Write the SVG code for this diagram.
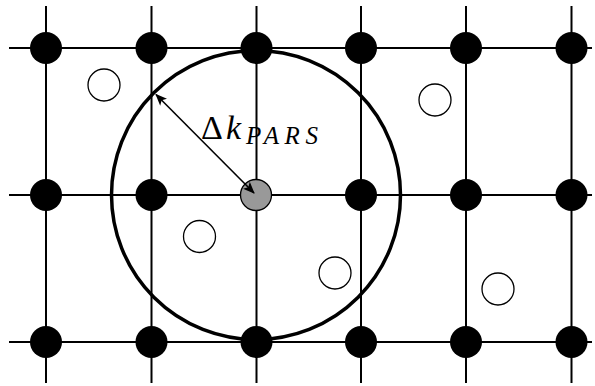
<svg xmlns="http://www.w3.org/2000/svg" width="595" height="386" viewBox="0 0 595 386">
<style>
.grid line{stroke:#000;stroke-width:2}
.lat{fill:#000}
.vac{fill:#fff;stroke:#000;stroke-width:1.3}
.ctr{fill:#999;stroke:#000;stroke-width:1.3}
.lbl{font-family:"Liberation Serif","DejaVu Serif",serif;font-style:italic;fill:#000}
</style>
<defs>
<marker id="ah" viewBox="0 0 12 10" refX="11" refY="5" markerWidth="12" markerHeight="10" markerUnits="userSpaceOnUse" orient="auto-start-reverse">
<path d="M0,0 L12,5 L0,10 L3,5 Z" fill="#000"/>
</marker>
</defs>
<g id="grid" class="grid">
<line x1="9" y1="48" x2="592" y2="48"/>
<line x1="9" y1="195" x2="592" y2="195"/>
<line x1="9" y1="342" x2="592" y2="342"/>
<line x1="46" y1="6" x2="46" y2="383"/>
<line x1="151.5" y1="6" x2="151.5" y2="383"/>
<line x1="256.5" y1="6" x2="256.5" y2="383"/>
<line x1="361" y1="6" x2="361" y2="383"/>
<line x1="466" y1="6" x2="466" y2="383"/>
<line x1="571.5" y1="6" x2="571.5" y2="383"/>
</g>
<g id="range">
<circle cx="256" cy="195" r="144.5" fill="none" stroke="#000" stroke-width="3.5"/>
</g>
<g id="lattice">
<circle class="lat" cx="46" cy="48" r="16"/>
<circle class="lat" cx="151.5" cy="48" r="16"/>
<circle class="lat" cx="256.5" cy="48" r="16"/>
<circle class="lat" cx="361" cy="48" r="16"/>
<circle class="lat" cx="466" cy="48" r="16"/>
<circle class="lat" cx="571.5" cy="48" r="16"/>
<circle class="lat" cx="46" cy="195" r="16"/>
<circle class="lat" cx="151.5" cy="195" r="16"/>
<circle class="lat" cx="361" cy="195" r="16"/>
<circle class="lat" cx="466" cy="195" r="16"/>
<circle class="lat" cx="571.5" cy="195" r="16"/>
<circle class="lat" cx="46" cy="342" r="16"/>
<circle class="lat" cx="151.5" cy="342" r="16"/>
<circle class="lat" cx="256.5" cy="342" r="16"/>
<circle class="lat" cx="361" cy="342" r="16"/>
<circle class="lat" cx="466" cy="342" r="16"/>
<circle class="lat" cx="571.5" cy="342" r="16"/>
</g>
<g id="center"><circle class="ctr" cx="256" cy="195" r="15.5"/></g>
<g id="vacancies">
<circle class="vac" cx="104" cy="85" r="16"/>
<circle class="vac" cx="435" cy="100" r="16"/>
<circle class="vac" cx="199.5" cy="236.5" r="16"/>
<circle class="vac" cx="335" cy="273" r="16"/>
<circle class="vac" cx="498" cy="289" r="16"/>
</g>
<g id="connectors">
<line x1="156" y1="94.5" x2="254" y2="193" stroke="#000" stroke-width="1.6" marker-start="url(#ah)" marker-end="url(#ah)"/>
</g>
<g id="label">
<text x="201" y="139" font-family="Liberation Serif, DejaVu Serif, serif" font-size="34" fill="#000">Δ</text>
<text class="lbl" x="226" y="139" font-size="34">k</text>
<text class="lbl" x="246" y="144" font-size="25" textLength="72" lengthAdjust="spacing">PARS</text>
</g>
</svg>
